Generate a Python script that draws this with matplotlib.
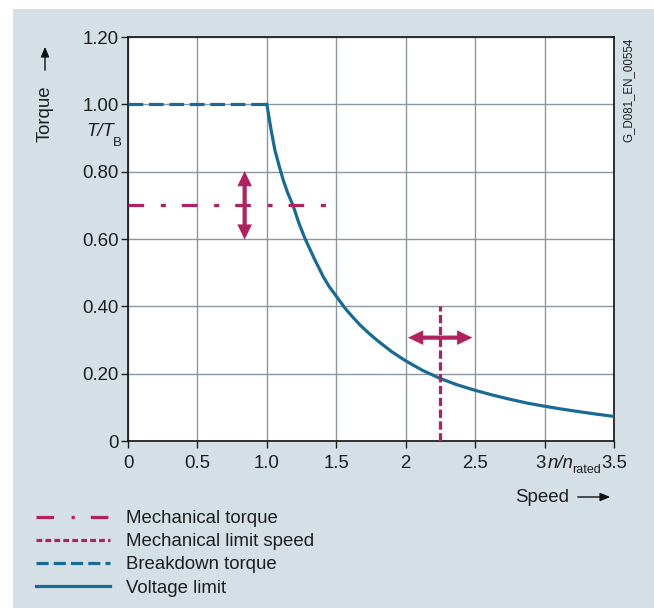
import matplotlib
matplotlib.use("Agg")
import matplotlib.pyplot as plt
import matplotlib.transforms as mtransforms
from matplotlib.patches import FancyArrowPatch, Rectangle
from matplotlib.lines import Line2D

plt.rcParams['font.family'] = ['Liberation Sans', 'DejaVu Sans']

# Data
breakdown_x = [0.0, 1.0]
breakdown_y = [1.0, 1.0]
voltage_x = [1.0, 1.03, 1.058, 1.09, 1.118, 1.15, 1.19, 1.23, 1.274, 1.34, 1.406, 1.45, 1.5, 1.562,
             1.61, 1.67, 1.74, 1.8, 1.9, 2.0, 2.12, 2.246, 2.37, 2.496, 2.62, 2.75, 2.87, 2.99,
             3.12, 3.25, 3.37, 3.5]
voltage_y = [1.0, 0.925, 0.864, 0.815, 0.775, 0.737, 0.698, 0.648, 0.602, 0.543, 0.488, 0.458, 0.43,
             0.395, 0.372, 0.345, 0.318, 0.297, 0.265, 0.238, 0.21, 0.186, 0.167, 0.151, 0.137,
             0.124, 0.113, 0.104, 0.095, 0.087, 0.08, 0.073]
mech_torque_x = [0.0, 1.45]
mech_torque_y = [0.70, 0.70]
mech_speed_x = [2.25, 2.25]
mech_speed_y = [0.0, 0.40]
torque_arrow = (0.84, 0.598, 0.802)   # x, y0, y1
speed_arrow = (0.307, 2.016, 2.48)    # y, x0, x1
xticks = [0, 0.5, 1.0, 1.5, 2.0, 2.5, 3.0, 3.5]
xticklabels = ['0', '0.5', '1.0', '1.5', '2', '2.5', '3', '3.5']
yticks = [0, 0.2, 0.4, 0.6, 0.8, 1.0, 1.2]
yticklabels = ['0', '0.20', '0.40', '0.60', '0.80', '1.00', '1.20']
legend_labels = ['Mechanical torque', 'Mechanical limit speed', 'Breakdown torque', 'Voltage limit']

MAG = '#b0215d'
TEAL = '#1a6b93'
BG = '#d4dfe6'
GRID = '#8c969c'
TXT = '#1e1e1e'
FS = 13.4

W, H = 654, 608
fig = plt.figure(figsize=(W / 100, H / 100), dpi=100)
fig.patch.set_facecolor('white')
fig.patches.append(Rectangle((13 / W, 0), 1 - 13 / W, 1 - 9 / H, transform=fig.transFigure,
                             facecolor=BG, edgecolor='none', zorder=-10))

ax = fig.add_axes([128 / W, 1 - 441 / H, (614 - 128) / W, (441 - 37) / H])
ax.set_facecolor('white')
ax.set_xlim(0, 3.5)
ax.set_ylim(0, 1.2)
ax.set_xticks(xticks)
ax.set_xticklabels(xticklabels)
ax.set_yticks(yticks)
ax.set_yticklabels(yticklabels)
ax.tick_params(direction='out', length=5, width=1, labelsize=FS, colors=TXT, pad=1.5)
ax.tick_params(axis='x', pad=5)
ax.grid(True, color=GRID, linewidth=1)
ax.set_axisbelow(True)
for s in ax.spines.values():
    s.set_color('#111111')
    s.set_linewidth(1.2)

# shift the "3" tick label slightly left, as in the reference
lbl3 = ax.get_xticklabels()[6]
lbl3.set_transform(lbl3.get_transform() + mtransforms.ScaledTranslation(-4 / 100, 0, fig.dpi_scale_trans))

ax.plot(breakdown_x, breakdown_y, color=TEAL, lw=2.3, dashes=(4.6, 1.8), zorder=3)
ax.plot(voltage_x, voltage_y, color=TEAL, lw=2.3, zorder=3, solid_joinstyle='round')
ax.plot(mech_torque_x, mech_torque_y, color=MAG, lw=2.3, dashes=(4.9, 5.2, 1.6, 5.0), zorder=3)
ax.plot(mech_speed_x, mech_speed_y, color=MAG, lw=2.3, dashes=(2.6, 1.1), zorder=3)

astyle = 'simple,head_length=11,head_width=10.5,tail_width=3'
for (p0, p1) in [((torque_arrow[0], (torque_arrow[1] + torque_arrow[2]) / 2), (torque_arrow[0], torque_arrow[2])),
                 ((torque_arrow[0], (torque_arrow[1] + torque_arrow[2]) / 2), (torque_arrow[0], torque_arrow[1])),
                 (((speed_arrow[1] + speed_arrow[2]) / 2, speed_arrow[0]), (speed_arrow[2], speed_arrow[0])),
                 (((speed_arrow[1] + speed_arrow[2]) / 2, speed_arrow[0]), (speed_arrow[1], speed_arrow[0]))]:
    ax.add_patch(FancyArrowPatch(p0, p1, arrowstyle=astyle, color=MAG, lw=0,
                                 shrinkA=0, shrinkB=0, zorder=4))

# axis annotations
fig.text(45 / W, 1 - 114 / H, 'Torque', rotation=90, ha='center', va='center', fontsize=FS, color=TXT)
fig.add_artist(FancyArrowPatch((45 / W, 1 - 73 / H), (45 / W, 1 - 44 / H), transform=fig.transFigure,
                               arrowstyle='-|>,head_length=6,head_width=2.5', color='#111111', lw=1))
fig.text(86 / W, 1 - 132 / H, 'T/T', ha='left', va='center', fontsize=FS, color=TXT, style='italic')
fig.text(113 / W, 1 - 143 / H, 'B', ha='left', va='center', fontsize=9.5, color=TXT)
fig.text(515 / W, 1 - 497 / H, 'Speed', ha='left', va='center', fontsize=FS, color=TXT)
fig.add_artist(FancyArrowPatch((575 / W, 1 - 497 / H), (613 / W, 1 - 497 / H), transform=fig.transFigure,
                               arrowstyle='-|>,head_length=6,head_width=2.5', color='#111111', lw=1))
fig.text(548 / W, 1 - 463 / H, 'n/n', ha='left', va='center', fontsize=FS, color=TXT, style='italic')
fig.text(572 / W, 1 - 470 / H, 'rated', ha='left', va='center', fontsize=9, color=TXT)
fig.text(628 / W, 1 - 90 / H, 'G_D081_EN_00554', rotation=90, ha='center', va='center', fontsize=8.3, color=TXT)

# legend
handles = [
    Line2D([0], [0], color=MAG, lw=2.3, dashes=(5.5, 5.5, 1.0, 5.0)),
    Line2D([0], [0], color=MAG, lw=2.3, dashes=(1.8, 1.0)),
    Line2D([0], [0], color=TEAL, lw=2.3, dashes=(3.8, 1.6)),
    Line2D([0], [0], color=TEAL, lw=2.3),
]
leg = fig.legend(handles, legend_labels, loc='upper left', bbox_to_anchor=(36 / W, 1 - 510 / H),
                 frameon=False, fontsize=FS, handlelength=4.0, handletextpad=0.86, labelspacing=0.33,
                 borderpad=0, borderaxespad=0)
for t in leg.get_texts():
    t.set_color(TXT)

fig.savefig('out.png', dpi=100, facecolor=fig.get_facecolor())
